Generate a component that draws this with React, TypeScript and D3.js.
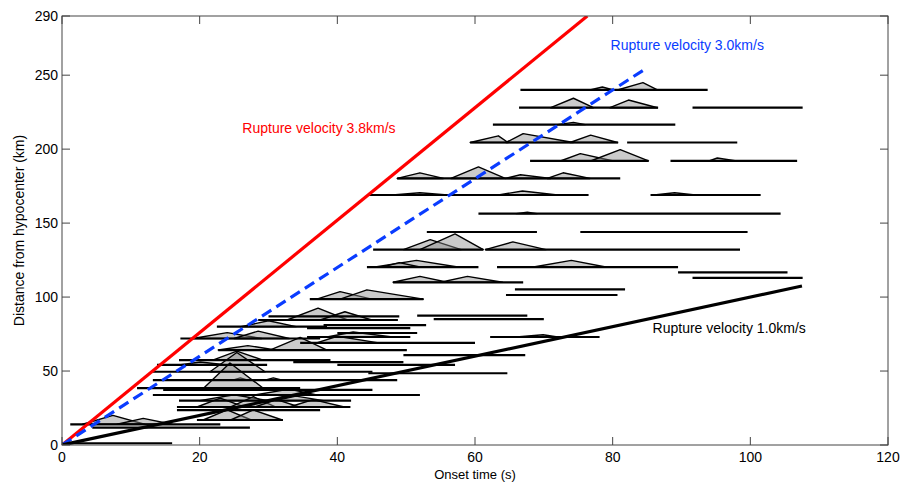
import React from "react";
import * as d3 from "d3";

const width = 901;
const height = 485;
const margin = { top: 16, right: 13, bottom: 40, left: 62 };

// station records: [distance km, start s, end s]
const records: [number, number, number][] = [
  [240, 66.6, 93.8],
  [228, 66.4, 86.6],
  [228, 91.6, 107.6],
  [216.6, 62.6, 89.1],
  [204.5, 59.3, 80.8],
  [204.5, 82.1, 98.1],
  [192, 68, 85.2],
  [192, 88.4, 106.8],
  [180.2, 48.7, 81.1],
  [169, 44.3, 76.5],
  [169, 85.5, 101.5],
  [156.4, 60.5, 104.4],
  [144, 53, 69],
  [144, 75.3, 99.6],
  [132.1, 45.2, 61.2],
  [132.1, 61.5, 98.5],
  [120.3, 44.3, 60.5],
  [120.3, 63.2, 89.5],
  [116.7, 89.5, 105.4],
  [113, 91.6, 107.6],
  [110, 48.1, 67],
  [105.2, 65.8, 81.8],
  [101.4, 64.5, 80.7],
  [98.6, 36, 52.5],
  [87.4, 51.6, 67.6],
  [87, 30, 49],
  [85.1, 54, 70],
  [84.5, 28.5, 48.8],
  [81.1, 38, 52.9],
  [80, 22.5, 38.5],
  [79, 35.6, 50.6],
  [75.7, 40, 51.6],
  [73, 35.6, 50.6],
  [73, 62.2, 78.1],
  [72, 17.2, 37.5],
  [69, 34.6, 60],
  [64.2, 22.7, 50.1],
  [60.8, 49.6, 67.3],
  [57.4, 17, 39],
  [56, 33.6, 49.6],
  [54.1, 13.8, 29.8],
  [54.1, 40, 57.1],
  [49.5, 13.2, 45.1],
  [48.5, 44.5, 64.7],
  [43.9, 13.2, 48.7],
  [38.5, 10.9, 34.6],
  [37.2, 14.7, 45.1],
  [33.8, 13.2, 52],
  [30, 17, 42],
  [25.7, 16.7, 41.9],
  [23.6, 16.7, 37.5],
  [16.9, 19.6, 32.1],
  [14, 1.2, 23],
  [11.8, 4.4, 27.3],
  [1.2, 0, 16],
];

// source pulses: [distance km, start s, peak s, end s, amplitude km]
const pulses: [number, number, number, number, number][] = [
  [240, 76.7, 78.5, 80.1, 2],
  [240, 80.7, 84.4, 86.5, 5],
  [228, 71, 74.3, 77.2, 6.4],
  [228, 79.6, 82.3, 86.5, 5.2],
  [216.6, 72, 74.3, 76, 1.5],
  [204.5, 59.3, 63.4, 64.8, 4.5],
  [204.5, 64.5, 67, 74.3, 6],
  [204.5, 73.8, 76.8, 80.7, 5],
  [192, 72.4, 75.3, 80.1, 5],
  [192, 76.8, 81.1, 85.2, 7.7],
  [192, 94, 95.2, 98, 2],
  [180.2, 48.7, 52, 55.4, 3.8],
  [180.2, 56.5, 60.5, 64.4, 7.8],
  [180.2, 64.4, 66.6, 71, 2.5],
  [180.2, 70.5, 72.8, 76.7, 3.8],
  [169, 48, 52, 56, 1.5],
  [169, 63.4, 66.9, 72, 2.7],
  [169, 86, 89, 92, 1.5],
  [156.4, 66, 67.6, 69, 1],
  [132.1, 49.6, 53.5, 58, 6.7],
  [132.1, 52, 57.1, 61.2, 10.6],
  [132.1, 61.5, 65.5, 70.3, 5.2],
  [120.3, 45.5, 51.5, 57.5, 4.5],
  [120.3, 46.5, 49, 52, 3],
  [120.3, 68.5, 74, 79, 4.5],
  [110, 48.1, 52, 56, 4],
  [110, 55, 58.9, 64, 4],
  [98.6, 37, 40.4, 45, 5.1],
  [98.6, 40.4, 44.3, 52.5, 6.3],
  [84.5, 32.7, 37.2, 41.5, 8],
  [84.5, 37.5, 41.1, 45, 5.6],
  [80, 26, 30, 34, 4],
  [73, 38.5, 42.3, 48, 3.4],
  [73, 66, 69.9, 72, 1.5],
  [72, 19, 24, 29, 4],
  [72, 25, 28.5, 33, 5],
  [69, 37, 40, 46, 4.5],
  [64.2, 30.2, 34.6, 38.5, 8.5],
  [64.2, 22.7, 27, 31, 3],
  [57.4, 21.9, 25.4, 29.2, 6],
  [54.1, 17, 20.1, 24, 2],
  [49.5, 21.5, 25.4, 29.5, 13],
  [43.9, 24.8, 25.9, 27, 1.5],
  [43.9, 29.5, 30.7, 32, 1.5],
  [38.5, 20.6, 24.4, 29.2, 16.9],
  [33.8, 28, 33, 37, 4],
  [30, 20, 25, 30, 4],
  [30, 31, 34, 38, 3],
  [25.7, 19.6, 23, 26.5, 6],
  [25.7, 24.5, 27.8, 31, 7],
  [25.7, 28, 31.2, 34.5, 5],
  [25.7, 33, 36.5, 41, 5],
  [16.9, 20.5, 24, 27.5, 6.8],
  [16.9, 24.5, 27.8, 32, 6.8],
  [14, 3, 7.4, 12, 6],
  [14, 8, 11.8, 16, 4],
];

// rupture front velocities (km/s) and the time each line ends
const velocities = [3.8, 3.0, 1.0];
const velocityEnds = [290 / 3.8, 85, 107.5];
const velocityLabels = ["Rupture velocity 3.8km/s", "Rupture velocity 3.0km/s", "Rupture velocity 1.0km/s"];
const velocityColors = ["#ff0000", "#0a3cff", "#000000"];

const xTicks = [0, 20, 40, 60, 80, 100, 120];
const yTicks = [0, 50, 100, 150, 200, 250, 290];

const App = () => {
  const x = d3.scaleLinear().domain([0, 120]).range([margin.left, width - margin.right]);
  const y = d3.scaleLinear().domain([0, 290]).range([height - margin.bottom, margin.top]);
  const line = d3.line<[number, number]>().x((d) => x(d[0])).y((d) => y(d[1]));

  // where each velocity label sits, in data units
  const labelAt: [number, number][] = [[26.2, 211], [79.7, 267], [85.8, 75.6]];

  const x0 = margin.left;
  const x1 = width - margin.right;
  const y0 = height - margin.bottom;
  const y1 = margin.top;
  const font = "Arial, 'Liberation Sans', sans-serif";

  return (
    <svg width={width} height={height} style={{ position: "fixed", left: 0, top: 0, background: "#fff" }} fontFamily={font}>
      <defs>
        <clipPath id="plot">
          <rect x={x0} y={y1} width={x1 - x0} height={y0 - y1} />
        </clipPath>
      </defs>
      <rect x={0} y={0} width={width} height={height} fill="#fff" />

      <g clipPath="url(#plot)">
        {pulses.map((p, i) => (
          <path
            key={"p" + i}
            d={line([[p[1], p[0]], [p[2], p[0] + p[4]], [p[3], p[0]]])! + "Z"}
            fill="#8c8c8c"
            fillOpacity={0.45}
            stroke="#000"
            strokeWidth={1.4}
            strokeLinejoin="round"
          />
        ))}
        {records.map((r, i) => (
          <path key={"r" + i} d={line([[r[1], r[0]], [r[2], r[0]]])!} stroke="#000" strokeWidth={2.2} fill="none" />
        ))}
        {velocities.map((v, i) => (
          <path
            key={"v" + i}
            d={line([[0, 0], [velocityEnds[i], velocityEnds[i] * v]])!}
            stroke={velocityColors[i]}
            strokeWidth={3.2}
            strokeDasharray={i === 1 ? "11,6" : undefined}
            fill="none"
          />
        ))}
      </g>

      {velocityLabels.map((t, i) => (
        <text key={"l" + i} x={x(labelAt[i][0])} y={y(labelAt[i][1])} fontSize={14} fill={velocityColors[i]}>
          {t}
        </text>
      ))}

      {/* axes box */}
      <rect x={x0} y={y1} width={x1 - x0} height={y0 - y1} fill="none" stroke="#444" strokeWidth={1} />
      {xTicks.map((t) => (
        <g key={"x" + t}>
          <line x1={x(t)} x2={x(t)} y1={y0} y2={y0 - 8} stroke="#444" />
          <line x1={x(t)} x2={x(t)} y1={y1} y2={y1 + 8} stroke="#444" />
          <text x={x(t)} y={y0 + 17} fontSize={14} textAnchor="middle" fill="#000">
            {t}
          </text>
        </g>
      ))}
      {yTicks.map((t) => (
        <g key={"y" + t}>
          <line x1={x0} x2={x0 + 8} y1={y(t)} y2={y(t)} stroke="#444" />
          <line x1={x1} x2={x1 - 8} y1={y(t)} y2={y(t)} stroke="#444" />
          <text x={x0 - 4} y={y(t) + 5} fontSize={14} textAnchor="end" fill="#000">
            {t}
          </text>
        </g>
      ))}
      <text x={(x0 + x1) / 2} y={y0 + 34} fontSize={13} textAnchor="middle" fill="#000">
        Onset time (s)
      </text>
      <text transform={`translate(24,${(y0 + y1) / 2}) rotate(-90)`} fontSize={14} textAnchor="middle" fill="#000">
        Distance from hypocenter (km)
      </text>
    </svg>
  );
};

export default App;
